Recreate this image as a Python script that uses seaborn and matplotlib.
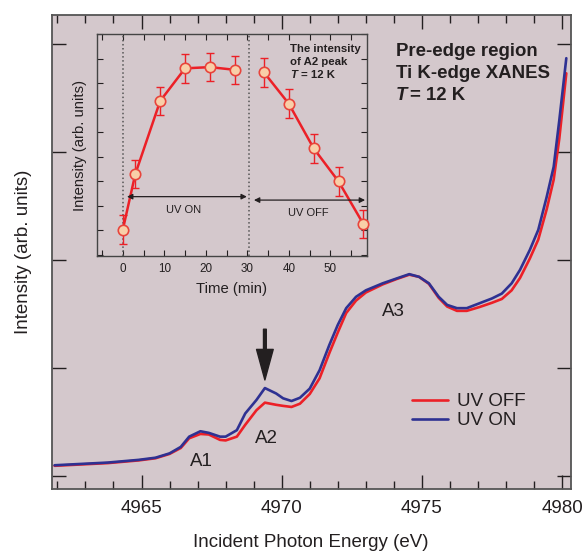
import numpy as np
import pandas as pd
import matplotlib
matplotlib.use("Agg")
import matplotlib.pyplot as plt
from matplotlib.ticker import MultipleLocator
import seaborn as sns

sns.set_theme(style="ticks")
plt.rcParams['font.family'] = ['Liberation Sans', 'DejaVu Sans']

BG = "#d4c8cc"
INK = "#231f20"
RED = "#ec2027"
BLUE = "#2e3192"

# Main XANES spectra
energy = [4961.9, 4963.8, 4964.9, 4965.5, 4966.0, 4966.4, 4966.7, 4967.1, 4967.4,
          4967.8, 4968.0, 4968.4, 4968.7, 4969.1, 4969.4, 4969.8, 4970.05, 4970.35,
          4970.65, 4971.0, 4971.35, 4971.7, 4972.0, 4972.3, 4972.65, 4973.0, 4973.6,
          4974.1, 4974.55, 4974.9, 4975.25, 4975.6, 4975.9, 4976.25, 4976.6, 4977.05,
          4977.5, 4977.85, 4978.2, 4978.5, 4978.85, 4979.15, 4979.45, 4979.7, 4979.9,
          4980.15]
uv_on = [0.020, 0.025, 0.030, 0.034, 0.042, 0.054, 0.073, 0.083, 0.080, 0.073, 0.073,
         0.085, 0.116, 0.141, 0.163, 0.153, 0.144, 0.139, 0.145, 0.162, 0.196, 0.243,
         0.280, 0.311, 0.332, 0.344, 0.357, 0.366, 0.374, 0.369, 0.357, 0.332, 0.317,
         0.311, 0.311, 0.320, 0.329, 0.338, 0.357, 0.382, 0.419, 0.456, 0.517, 0.573,
         0.659, 0.774]
uv_off = [0.019, 0.024, 0.029, 0.033, 0.041, 0.052, 0.070, 0.078, 0.077, 0.067, 0.066,
          0.073, 0.095, 0.122, 0.136, 0.132, 0.130, 0.128, 0.134, 0.152, 0.181, 0.228,
          0.266, 0.302, 0.325, 0.340, 0.355, 0.365, 0.373, 0.369, 0.356, 0.330, 0.314,
          0.306, 0.306, 0.313, 0.321, 0.328, 0.344, 0.367, 0.403, 0.438, 0.494, 0.549,
          0.625, 0.746]

# Inset: A2 peak intensity vs time
time_min = [0, 3, 9, 15, 21, 27, 34, 40, 46, 52, 58]
a2_int = [1.03, 3.29, 6.27, 7.60, 7.65, 7.54, 7.44, 6.16, 4.34, 2.99, 1.25]
a2_err = [0.58, 0.58, 0.58, 0.58, 0.58, 0.58, 0.58, 0.58, 0.58, 0.58, 0.58]
phase = ["on", "on", "on", "on", "on", "on", "off", "off", "off", "off", "off"]

spec = pd.DataFrame({
    "E": energy * 2,
    "I": uv_off + uv_on,
    "cond": ["UV OFF"] * len(energy) + ["UV ON"] * len(energy),
})
ins = pd.DataFrame({"t": time_min, "v": a2_int, "err": a2_err, "phase": phase})

fig = plt.figure(figsize=(5.84, 5.52), dpi=100)
ax = fig.add_axes([0.0882, 0.1141, 0.8887, 0.8587])
ax.set_facecolor(BG)

sns.lineplot(data=spec, x="E", y="I", hue="cond", palette={"UV OFF": RED, "UV ON": BLUE},
             linewidth=1.9, ax=ax)

ax.set_xlim(4961.79, 4980.30)
ax.set_ylim(-0.024, 0.854)
ax.xaxis.set_major_locator(MultipleLocator(5))
ax.xaxis.set_minor_locator(MultipleLocator(1))
ax.yaxis.set_major_locator(MultipleLocator(0.2))
ax.tick_params(which="both", direction="in", top=True, right=True, colors=INK, labelsize=13.5)
ax.tick_params(which="major", length=10, width=1.0, pad=8)
ax.tick_params(which="minor", length=5.5, width=1.0)
ax.tick_params(axis="y", labelleft=False)
for s in ax.spines.values():
    s.set_color("#555555")
    s.set_linewidth(1.3)
ax.set_xlabel("Incident Photon Energy (eV)", fontsize=13.5, color=INK, labelpad=12)
ax.set_ylabel("Intensity (arb. units)", fontsize=13.5, color=INK, labelpad=14)

leg = ax.legend(loc="upper left", bbox_to_anchor=(0.677, 0.222), frameon=False,
                fontsize=13.5, handlelength=1.9, handletextpad=0.5, labelspacing=0.1,
                borderpad=0, title=None)
for t in leg.get_texts():
    t.set_color(INK)

ax.text(4967.13, 0.0265, "A1", fontsize=13.5, color=INK, ha="center", va="center")
ax.text(4969.47, 0.0704, "A2", fontsize=13.5, color=INK, ha="center", va="center")
ax.text(4973.97, 0.3056, "A3", fontsize=13.5, color=INK, ha="center", va="center")
ax.annotate("", xy=(4969.4, 0.178), xytext=(4969.4, 0.272),
            arrowprops=dict(facecolor=INK, edgecolor=INK, width=2, headwidth=12, headlength=22))

fig.text(396 / 584, 1 - 51.7 / 552, "Pre-edge region", fontsize=13.4, fontweight="bold",
         color=INK, va="center")
fig.text(396 / 584, 1 - 74 / 552, "Ti K-edge XANES", fontsize=13.4, fontweight="bold",
         color=INK, va="center")
fig.text(396 / 584, 1 - 96 / 552, "T", fontsize=13.4, fontweight="bold", style="italic",
         color=INK, va="center")
fig.text(410 / 584, 1 - 96 / 552, "= 12 K", fontsize=13.4, fontweight="bold",
         color=INK, va="center")

# Inset
ax2 = fig.add_axes([0.1656, 0.5362, 0.4624, 0.4022])
ax2.set_facecolor(BG)
ax2.errorbar(ins["t"], ins["v"], yerr=ins["err"], fmt="none", ecolor=RED, elinewidth=1.0,
             capsize=2.6, capthick=1.0, zorder=2)
sns.lineplot(data=ins, x="t", y="v", units="phase", estimator=None, color=RED,
             linewidth=1.8, marker="o", markersize=7.5, markerfacecolor="#f8cfa8",
             markeredgecolor="#e8453c", markeredgewidth=1.2, ax=ax2, zorder=3)
for ln in ax2.lines:
    ln.set_clip_on(False)
ax2.set_xlim(-6.3, 58.8)
ax2.set_ylim(-0.05, 9.0)
ax2.axvline(0, color="#555555", linestyle=":", linewidth=1.1, zorder=1)
ax2.axvline(30.5, color="#555555", linestyle=":", linewidth=1.1, zorder=1)
ax2.annotate("", xy=(1.0, 2.37), xytext=(29.9, 2.37),
             arrowprops=dict(arrowstyle="<|-|>", color=INK, lw=0.9, mutation_scale=8,
                             shrinkA=0, shrinkB=0))
ax2.annotate("", xy=(31.6, 2.23), xytext=(58.4, 2.23),
             arrowprops=dict(arrowstyle="<|-|>", color=INK, lw=0.9, mutation_scale=8,
                             shrinkA=0, shrinkB=0))
ax2.text(14.6, 1.82, "UV ON", fontsize=8, color=INK, ha="center", va="center")
ax2.text(44.7, 1.69, "UV OFF", fontsize=8, color=INK, ha="center", va="center")
ax2.text(40.3, 8.38, "The intensity", fontsize=8.2, fontweight="bold", color=INK, va="center")
ax2.text(40.3, 7.84, "of A2 peak", fontsize=8.2, fontweight="bold", color=INK, va="center")
ax2.text(40.3, 7.33, "T", fontsize=8.2, fontweight="bold", style="italic", color=INK,
         va="center")
ax2.text(42.9, 7.33, "= 12 K", fontsize=8.2, fontweight="bold", color=INK, va="center")

ax2.xaxis.set_major_locator(MultipleLocator(10))
ax2.xaxis.set_minor_locator(MultipleLocator(5))
ax2.yaxis.set_major_locator(MultipleLocator(1))
ax2.tick_params(which="both", direction="in", top=True, right=True, colors=INK,
                labelsize=8.4, length=4.5, width=0.8, pad=5)
ax2.tick_params(axis="y", labelleft=False)
for s in ax2.spines.values():
    s.set_color("#444444")
    s.set_linewidth(1.0)
ax2.set_xlabel("Time (min)", fontsize=10.7, color=INK, labelpad=5)
ax2.set_ylabel("Intensity (arb. units)", fontsize=10.7, color=INK, labelpad=7)

fig.savefig("out.png", dpi=100, facecolor="white")
